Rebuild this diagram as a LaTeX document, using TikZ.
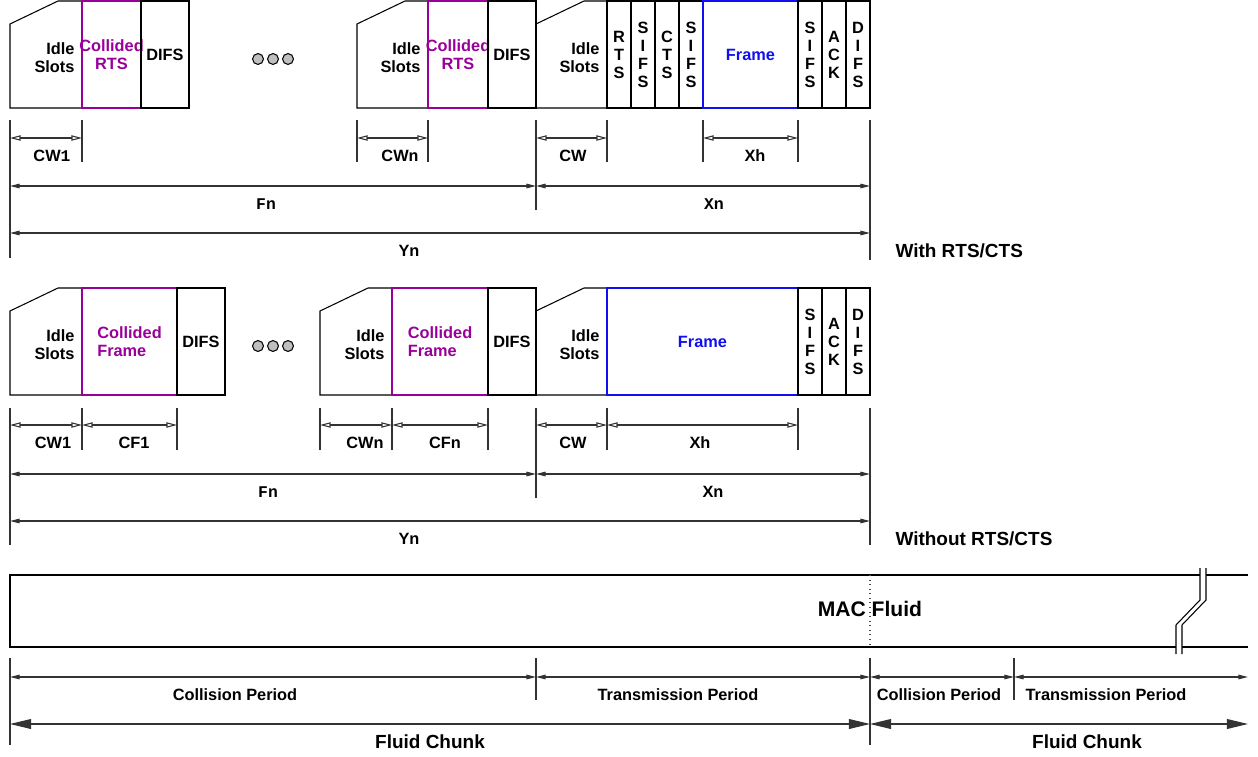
\documentclass[tikz,border=0pt]{standalone}
\usepackage{fontspec}
\setmainfont{Liberation Sans}
\setmonofont{Liberation Mono}
\usetikzlibrary{arrows.meta,calc,positioning}

\definecolor{collpurple}{HTML}{990099}
\definecolor{frameblue}{HTML}{1010EE}

\tikzset{
  lbl/.style={font=\fontsize{9.3}{10.2}\selectfont\bfseries, inner sep=0pt, align=center},
  bigfont/.style={font=\fontsize{10.8}{12}\selectfont\bfseries, inner sep=0pt},
  macfont/.style={font=\fontsize{12}{14}\selectfont\bfseries, inner sep=0pt},
  dimtick/.style={draw=black!80, line width=0.6pt},
  dimopen/.style={draw=black!80, line width=0.6pt,
    {Triangle[open,length=6pt,width=3pt]}-{Triangle[open,length=6pt,width=3pt]}},
  dimfill/.style={draw=black!80, line width=0.6pt,
    {Triangle[length=5.5pt,width=2.6pt]}-{Triangle[length=5.5pt,width=2.6pt]}},
  dimbig/.style={draw=black!80, line width=0.6pt,
    {Triangle[length=12pt,width=5.6pt]}-{Triangle[length=12pt,width=5.6pt]}},
  dot/.style={circle, draw, fill=black!25, minimum size=6.2pt, inner sep=0pt, line width=0.6pt}
}

% idle slot box with cut corner
\newcommand{\idlebox}[4]{% name, x1, x2, ytop
  \draw (#2,#4+23) -- (#2+48,#4) -- (#3,#4) -- (#3,#4+107) -- (#2,#4+107) -- cycle;
  \node[lbl, align=right, anchor=east] (#1) at (#3-7,#4+57) {Idle\\Slots};}
% plain cell
\newcommand{\cell}[7][lbl]{% style, name, x1, x2, ytop, colour, text
  \draw[#6] (#3,#5) rectangle (#4,#5+107);
  \node[#1, text=#6] (#2) at ({(#3+#4)/2},#5+54) {#7};}
% dimension arrow with label
\newcommand{\dimarrow}[8]{% name, arrow style, x1, x2, y, label style, label x, label
  \coordinate (#1s) at (#3,#5);
  \coordinate (#1e) at (#4,#5);
  \draw[#2] (#1s) -- (#1e);
  \node[#6] (#1) at (#7,#5+18) {#8};}

\begin{document}
\begin{tikzpicture}[x=0.02cm, y=-0.02cm, line width=0.6pt]
  \useasboundingbox (0,0) rectangle (1258,757);

  %% with RTS/CTS
  \idlebox{idleA}{10}{82}{1}
  \cell{rtsA}{82}{141}{1}{collpurple}{Collided\\RTS}
  \cell{difsA}{141}{189}{1}{black}{DIFS}
  \foreach \x [count=\i] in {258,273,288}
    \node[dot] (dotA\i) at (\x,59) {};
  \idlebox{idleB}{357}{428}{1}
  \cell{rtsB}{428}{488}{1}{collpurple}{Collided\\RTS}
  \cell{difsB}{488}{536}{1}{black}{DIFS}
  \idlebox{idleC}{536}{607}{1}
  \cell{rts}{607}{631}{1}{black}{R\\T\\S}
  \cell{sifsA}{631}{655}{1}{black}{S\\I\\F\\S}
  \cell{cts}{655}{679}{1}{black}{C\\T\\S}
  \cell{sifsB}{679}{703}{1}{black}{S\\I\\F\\S}
  \cell{frameA}{703}{798}{1}{frameblue}{Frame}
  \cell{sifsC}{798}{822}{1}{black}{S\\I\\F\\S}
  \cell{ackA}{822}{846}{1}{black}{A\\C\\K}
  \cell{difsC}{846}{870}{1}{black}{D\\I\\F\\S}

  \foreach \x in {82,357,428,607,703,798}
    \draw[dimtick] (\x,120) -- (\x,162);
  \draw[dimtick] (536,120) -- (536,210);
  \draw[dimtick] (10,120) -- (10,258);
  \draw[dimtick] (870,120) -- (870,260);

  \dimarrow{cwA}{dimopen}{10}{82}{138}{lbl}{52}{CW\texttt{1}}
  \dimarrow{cwnA}{dimopen}{357}{428}{138}{lbl}{400}{CW\texttt{n}}
  \dimarrow{cwxA}{dimopen}{536}{607}{138}{lbl}{573}{CW}
  \dimarrow{xhA}{dimopen}{703}{798}{138}{lbl}{755}{Xh}
  \dimarrow{fnA}{dimfill}{10}{536}{186}{lbl}{266}{\texttt{Fn}}
  \dimarrow{xnA}{dimfill}{536}{870}{186}{lbl}{714}{\texttt{X}n}
  \dimarrow{ynA}{dimfill}{10}{870}{233}{lbl}{409}{Yn}
  \node[bigfont, anchor=west] (withrts) at (895,251) {With RTS/CTS};

  %% without RTS/CTS
  \idlebox{idleD}{10}{82}{288}
  \cell[lbl, align=left]{collD}{82}{177}{288}{collpurple}{Collided\\Frame}
  \cell{difsD}{177}{225}{288}{black}{DIFS}
  \foreach \x [count=\i] in {258,273,288}
    \node[dot] (dotB\i) at (\x,346) {};
  \idlebox{idleE}{320}{392}{288}
  \cell[lbl, align=left]{collE}{392}{488}{288}{collpurple}{Collided\\Frame}
  \cell{difsE}{488}{536}{288}{black}{DIFS}
  \idlebox{idleF}{536}{607}{288}
  \cell{frameB}{607}{798}{288}{frameblue}{Frame}
  \cell{sifsF}{798}{822}{288}{black}{S\\I\\F\\S}
  \cell{ackB}{822}{846}{288}{black}{A\\C\\K}
  \cell{difsF}{846}{870}{288}{black}{D\\I\\F\\S}

  \foreach \x in {82,177,320,392,488,607,798}
    \draw[dimtick] (\x,408) -- (\x,450);
  \draw[dimtick] (536,408) -- (536,498);
  \draw[dimtick] (10,408) -- (10,545);
  \draw[dimtick] (870,408) -- (870,545);

  \dimarrow{cwB}{dimopen}{10}{82}{425}{lbl}{53}{CW1}
  \dimarrow{cfB}{dimopen}{82}{177}{425}{lbl}{134}{CF1}
  \dimarrow{cwnB}{dimopen}{320}{392}{425}{lbl}{365}{CWn}
  \dimarrow{cfnB}{dimopen}{392}{488}{425}{lbl}{445}{CFn}
  \dimarrow{cwxB}{dimopen}{536}{607}{425}{lbl}{573}{CW}
  \dimarrow{xhB}{dimopen}{607}{798}{425}{lbl}{700}{Xh}
  \dimarrow{fnB}{dimfill}{10}{536}{474}{lbl}{268}{\texttt{Fn}}
  \dimarrow{xnB}{dimfill}{536}{870}{474}{lbl}{713}{Xn}
  \dimarrow{ynB}{dimfill}{10}{870}{521}{lbl}{409}{Yn}
  \node[bigfont, anchor=west] (withoutrts) at (895,539) {Without RTS/CTS};

  %% MAC fluid
  \draw (1248,575) -- (10,575) -- (10,647) -- (1248,647);
  \fill[white] (1200,568) -- (1200,600) -- (1176,625) -- (1176,654)
    -- (1182,654) -- (1182,625) -- (1206,600) -- (1206,568) -- cycle;
  \draw (1200,568) -- (1200,600) -- (1176,625) -- (1176,654);
  \draw (1206,568) -- (1206,600) -- (1182,625) -- (1182,654);
  \draw[dotted, black!70] (870,575) -- (870,647);
  \node[macfont] (mac) at (870,609) {MAC Fluid};

  \draw[dimtick] (10,658) -- (10,745);
  \draw[dimtick] (870,658) -- (870,745);
  \draw[dimtick] (536,658) -- (536,700);
  \draw[dimtick] (1014,658) -- (1014,700);

  \dimarrow{colA}{dimfill}{10}{536}{677}{lbl}{235}{Collision Period}
  \dimarrow{trA}{dimfill}{536}{870}{677}{lbl}{678}{Transmission Period}
  \dimarrow{colB}{dimfill}{870}{1014}{677}{lbl}{939}{Collision Period}
  \dimarrow{trB}{dimfill}{1014}{1248}{677}{lbl}{1106}{Transmission Period}
  \dimarrow{chunkA}{dimbig}{10}{870}{724}{bigfont}{430}{Fluid Chunk}
  \dimarrow{chunkB}{dimbig}{870}{1248}{724}{bigfont}{1087}{Fluid Chunk}
\end{tikzpicture}
\end{document}
